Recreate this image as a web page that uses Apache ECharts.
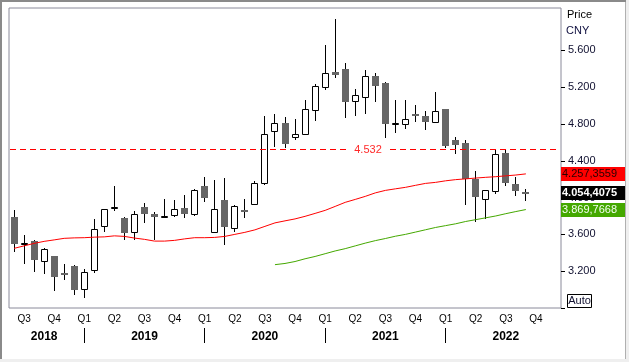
<!DOCTYPE html>
<html><head><meta charset="utf-8">
<script src="https://cdn.jsdelivr.net/npm/echarts@6/dist/echarts.min.js"></script>
<style>html,body{margin:0;padding:0;background:#fff}#c{width:629px;height:362px}</style>
</head><body><div id="c"></div>
<script>
const categories = [
 '2018-06','2018-07','2018-08','2018-09','2018-10','2018-11','2018-12',
 '2019-01','2019-02','2019-03','2019-04','2019-05','2019-06','2019-07','2019-08','2019-09','2019-10','2019-11','2019-12',
 '2020-01','2020-02','2020-03','2020-04','2020-05','2020-06','2020-07','2020-08','2020-09','2020-10','2020-11','2020-12',
 '2021-01','2021-02','2021-03','2021-04','2021-05','2021-06','2021-07','2021-08','2021-09','2021-10','2021-11','2021-12',
 '2022-01','2022-02','2022-03','2022-04','2022-05','2022-06','2022-07','2022-08','2022-09','2022-10','2022-11','2022-12'];
const openP  = [3.785,3.500,3.524,3.314,3.361,3.176,3.252,3.010,3.216,3.690,3.890,3.774,3.625,3.897,3.817,3.792,3.814,3.883,3.825,4.122,3.629,3.970,3.669,3.860,3.934,4.162,4.727,4.807,4.662,4.695,4.955,5.201,5.361,5.393,5.053,5.097,5.317,5.241,4.796,4.803,4.912,4.883,4.825,4.959,4.629,4.597,4.205,3.988,4.067,4.488,4.151,4.065];
const highP  = [3.861,3.589,3.535,3.448,3.361,3.281,3.263,3.223,3.763,3.879,4.122,3.785,3.850,3.940,3.842,3.980,3.977,4.024,4.093,4.223,4.187,4.209,3.915,3.988,4.176,4.883,4.908,4.872,4.850,5.057,5.230,5.654,5.937,5.459,5.184,5.383,5.353,5.255,5.057,5.057,5.002,4.937,5.147,4.959,4.658,4.622,4.285,4.086,4.513,4.532,4.223,4.097];
const lowP   = [3.415,3.288,3.201,3.179,2.991,3.111,2.948,2.918,3.190,3.636,3.868,3.549,3.549,3.734,3.553,3.788,3.799,3.788,3.807,3.962,3.629,3.491,3.636,3.788,3.925,4.150,4.560,4.549,4.640,4.690,4.847,5.184,5.310,4.875,4.893,4.923,5.049,4.658,4.712,4.760,4.832,4.749,4.825,4.549,4.484,3.934,3.745,3.780,4.049,4.133,4.024,3.970];
const closeP = [3.495,3.510,3.321,3.437,3.136,3.158,2.991,3.195,3.662,3.872,3.900,3.611,3.817,3.817,3.785,3.800,3.877,3.821,4.086,3.995,3.877,3.679,3.904,3.855,4.162,4.695,4.814,4.582,4.695,4.959,5.209,5.350,5.336,5.038,5.118,5.325,5.212,4.799,4.806,4.858,4.901,4.821,4.937,4.560,4.575,4.205,4.005,4.086,4.477,4.157,4.067,4.054];
const maRed = [3.448,3.475,3.502,3.524,3.540,3.557,3.562,3.564,3.570,3.573,3.584,3.578,3.560,3.546,3.527,3.527,3.535,3.551,3.564,3.564,3.567,3.578,3.600,3.622,3.649,3.687,3.725,3.747,3.768,3.796,3.828,3.861,3.904,3.948,3.980,4.013,4.051,4.078,4.095,4.111,4.133,4.154,4.165,4.182,4.195,4.203,4.212,4.220,4.227,4.236,4.245,4.2574];
const maGreen = [null,null,null,null,null,null,null,null,null,null,null,null,null,null,null,null,null,null,null,null,null,null,null,null,null,null,
 3.271,3.284,3.305,3.335,3.360,3.390,3.420,3.445,3.475,3.505,3.532,3.555,3.580,3.600,3.625,3.650,3.675,3.695,3.715,3.740,3.760,3.780,3.800,3.825,3.848,3.8698];
const refLevel = 4.532;
const yTickValues = [2.8,3.2,3.6,4.0,4.4,4.8,5.2,5.6];
const yLabelValues = [3.2,3.6,4.0,4.4,4.8,5.2,5.6];
const lastValues = [4.2573559, 4.0544075, 3.8697668];
const lastTexts = ['4.257,3559','4.054,4075','3.869,7668'];
const yearLabelMonths = {'2018-09':'2018','2019-07':'2019','2020-07':'2020','2021-07':'2021','2022-07':'2022'};

const candleData = openP.map((o,i)=>[i,o,closeP[i],lowP[i],highP[i]]);
const FONT = 'Liberation Sans, Arial, sans-serif';

function renderCandle(params, api){
  const i=api.value(0), o=api.value(1), c=api.value(2), l=api.value(3), h=api.value(4);
  const pO=api.coord([i,o]), pC=api.coord([i,c]), pL=api.coord([i,l]), pH=api.coord([i,h]);
  const n = Math.round(pO[0]-0.5);
  const cx = n+0.5;
  const children=[{type:'line',shape:{x1:cx,y1:Math.round(pH[1]),x2:cx,y2:Math.round(pL[1])+1},style:{stroke:'#000',lineWidth:1}}];
  const top=Math.min(pO[1],pC[1]), bot=Math.max(pO[1],pC[1]);
  if(c>=o){
    let t=Math.round(top), b=Math.round(bot); if(b-t<1) b=t+1;
    children.push({type:'rect',shape:{x:cx-3,y:t+0.5,width:6,height:b-t},style:{fill:'#fff',stroke:'#000',lineWidth:1}});
  } else {
    let t=Math.round(top), b=Math.round(bot); if(b-t<2) b=t+2;
    children.push({type:'rect',shape:{x:n-3,y:t,width:7,height:b-t},style:{fill:'#666666',stroke:null}});
  }
  return {type:'group',children};
}

const chart = echarts.init(document.getElementById('c'), null, {renderer:'canvas'});
chart.setOption({
  animation:false,
  backgroundColor:'#ffffff',
  grid:{left:9,top:8,width:552,height:300,show:true,borderColor:'#8a8a9a',borderWidth:1,backgroundColor:'#fff'},
  xAxis:[{
    type:'category',data:categories,boundaryGap:true,
    axisLine:{show:false},axisTick:{show:false},splitLine:{show:false},
    axisLabel:{
      interval:(idx,val)=>{const m=parseInt(val.slice(5),10);return (m-1)%3===0;},
      formatter:(val)=>'Q'+(Math.floor((parseInt(val.slice(5),10)-1)/3)+1),
      fontSize:10,fontFamily:FONT,color:'#000',margin:6
    }
  },{
    type:'category',data:categories,boundaryGap:true,position:'bottom',offset:20,
    axisLine:{show:false},splitLine:{show:false},
    axisTick:{show:true,alignWithLabel:true,length:15,interval:(idx,val)=>val.slice(5)==='01',lineStyle:{color:'#000',width:1}},
    axisLabel:{
      interval:(idx,val)=>!!yearLabelMonths[val],
      formatter:(val)=>yearLabelMonths[val]||'',
      fontSize:12,fontWeight:'bold',fontFamily:FONT,color:'#000',margin:3
    }
  }],
  yAxis:{
    type:'value',position:'right',min:2.8,max:6.06,interval:0.4,scale:true,
    axisLine:{show:false},splitLine:{show:false},
    axisTick:{show:true,length:4,lineStyle:{color:'#000'},customValues:yTickValues},
    axisLabel:{customValues:yLabelValues,formatter:v=>v.toFixed(3),fontSize:11,fontFamily:FONT,color:'#101030',margin:7}
  },
  series:[{
    type:'custom',renderItem:renderCandle,data:candleData,encode:{x:0,y:[1,2,3,4]},z:2,clip:true
  },{
    type:'line',data:maRed,symbol:'none',lineStyle:{color:'#ff0000',width:1},itemStyle:{color:'#ff0000'},z:3
  },{
    type:'line',data:maGreen,symbol:'none',lineStyle:{color:'#44a800',width:1},itemStyle:{color:'#44a800'},z:3
  }]
});

const yp = v => chart.convertToPixel({yAxisIndex:0}, v);
const refY = Math.round(yp(refLevel)) + 0.5;
const boxColors = ['#ff0000','#000000','#44a800'];
const boxText = ['#2a0000','#ffffff','#f4fff0'];
const boxWeight = ['normal','bold','normal'];
const g = [
  {type:'line',shape:{x1:10,y1:refY,x2:560,y2:refY},style:{stroke:'#ff0000',lineWidth:1,lineDash:[6,4]},z:90,silent:true},
  {type:'rect',shape:{x:0,y:0,width:629,height:2},style:{fill:'#8a8a8a'},z:200},
  {type:'rect',shape:{x:0,y:0,width:2,height:362},style:{fill:'#8a8a8a'},z:200},
  {type:'rect',shape:{x:626,y:0,width:3,height:362},style:{fill:'#efefef'},z:200},
  {type:'rect',shape:{x:625,y:2,width:1,height:357},style:{fill:'#b0b0b0'},z:200},
  {type:'rect',shape:{x:0,y:359,width:629,height:3},style:{fill:'#efefef'},z:200},
  {type:'text',x:567,y:15,style:{text:'Price',font:'11px '+FONT,fill:'#000',textVerticalAlign:'middle'},z:100},
  {type:'text',x:566,y:31,style:{text:'CNY',font:'11px '+FONT,fill:'#101040',textVerticalAlign:'middle'},z:100},
  {type:'rect',shape:{x:567.5,y:294.5,width:24,height:13},style:{fill:'#fff',stroke:'#000',lineWidth:1},z:100},
  {type:'text',x:579.5,y:301,style:{text:'Auto',font:'11px '+FONT,fill:'#101030',textAlign:'center',textVerticalAlign:'middle'},z:101},
  {type:'text',x:368,y:refY,style:{text:refLevel.toFixed(3),font:'11px '+FONT,fill:'#ff2a2a',textAlign:'center',textVerticalAlign:'middle',backgroundColor:'#fff',padding:[1,6]},z:100}
];
lastValues.forEach((v,k)=>{
  const cy = yp(v);
  g.push({type:'rect',shape:{x:561,y:Math.round(cy-7),width:65,height:14},style:{fill:boxColors[k]},z:110});
  g.push({type:'text',x:562,y:Math.round(cy),style:{text:lastTexts[k],font:boxWeight[k]+' 11px '+FONT,fill:boxText[k],textVerticalAlign:'middle'},z:111});
});
chart.setOption({graphic:g});
</script></body></html>
